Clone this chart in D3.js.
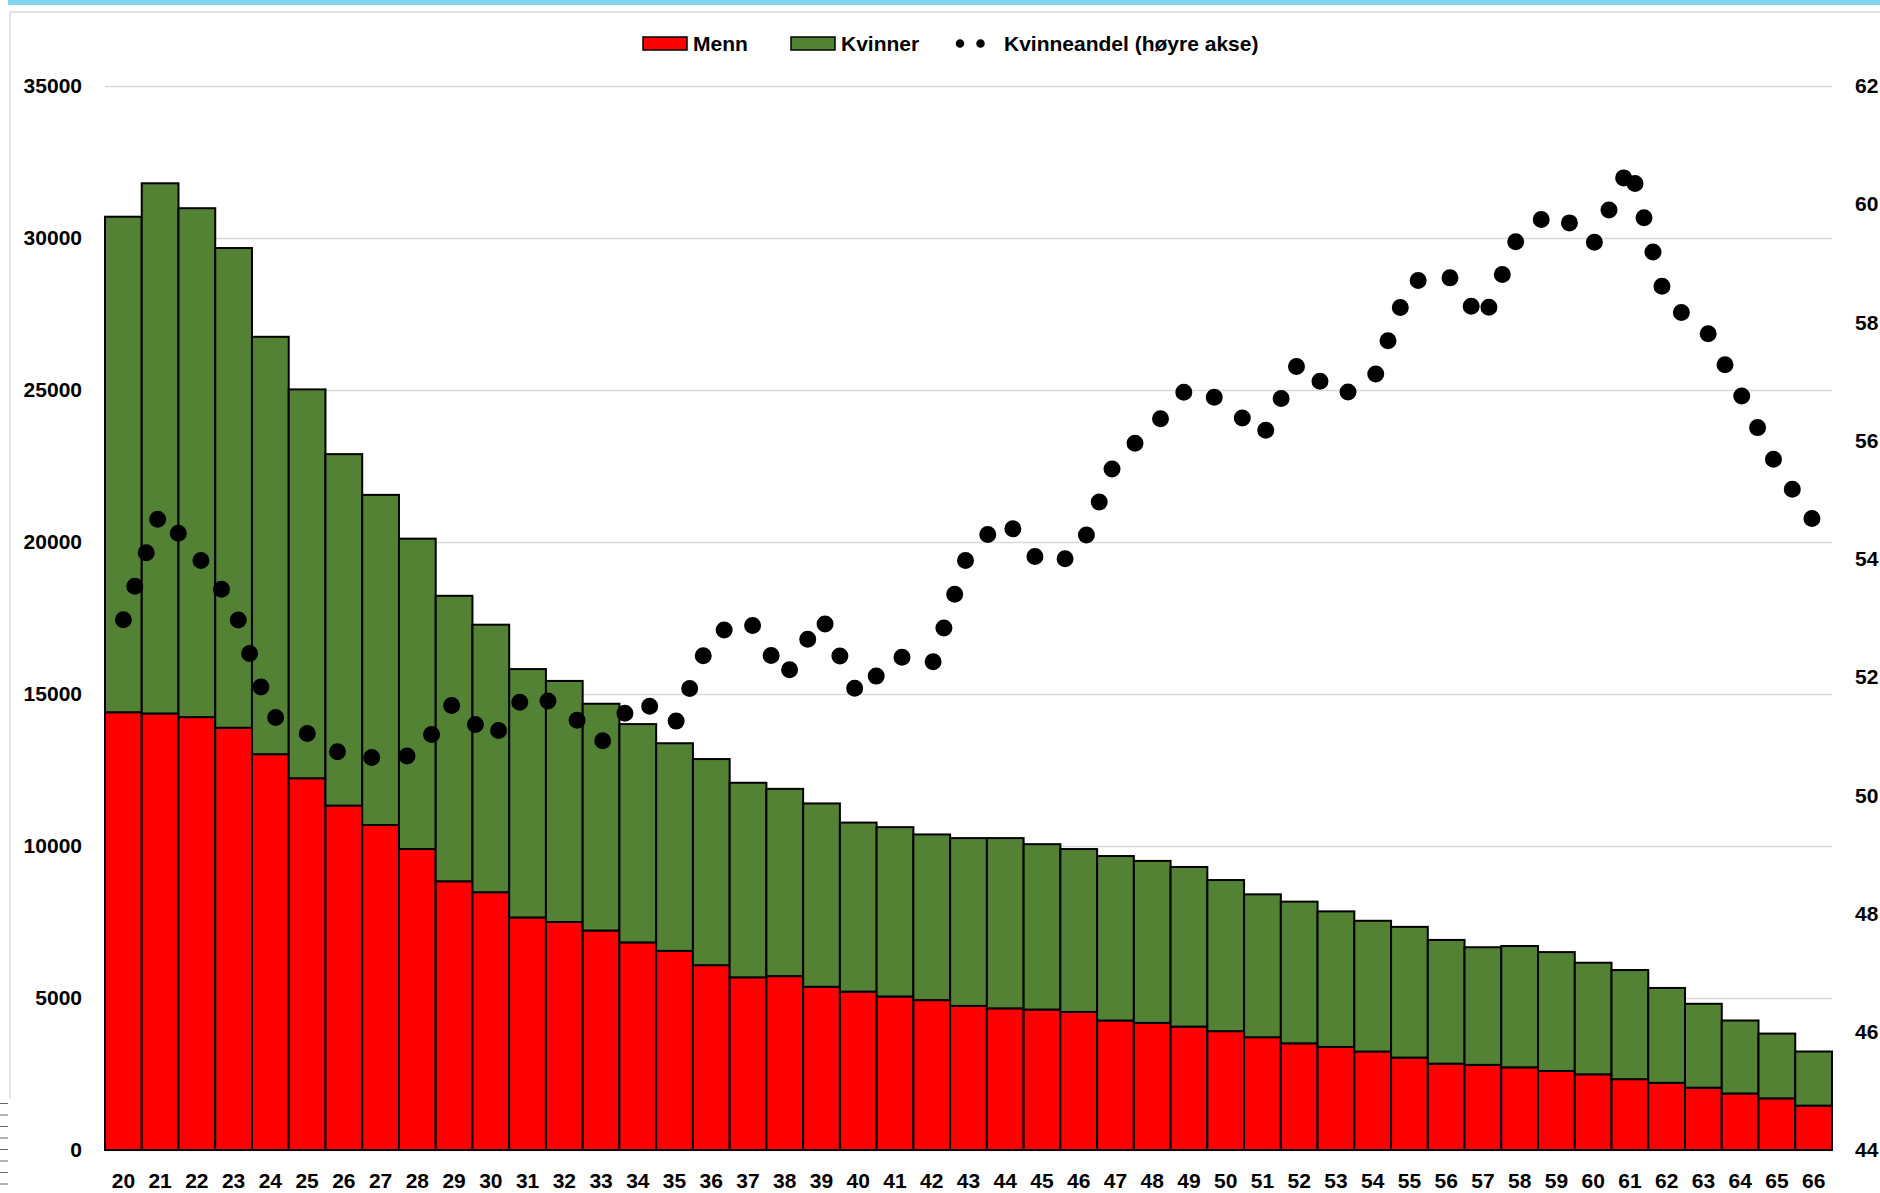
<!DOCTYPE html>
<html>
<head>
<meta charset="utf-8">
<script src="https://cdn.jsdelivr.net/npm/d3@7/dist/d3.min.js"></script>
<style>
body{margin:0;background:#fff;}
svg{display:block;}
</style>
</head>
<body>
<svg id="grafico" width="1880" height="1193"></svg>
<script>
// dados
var alder = [20,21,22,23,24,25,26,27,28,29,30,31,32,33,34,35,36,37,38,39,40,41,42,43,
    44,45,46,47,48,49,50,51,52,53,54,55,56,57,58,59,60,61,62,63,64,65,66];

var menn = [14400,14360,14240,13890,13020,12230,11330,10690,9900,8840,8480,7650,7500,7220,
    6830,6550,6080,5680,5720,5370,5210,5050,4930,4740,4660,4620,4540,4260,4180,4060,3910,
    3710,3510,3390,3240,3040,2840,2800,2720,2600,2490,2330,2210,2050,1860,1700,1460];

var kvinner = [16300,17440,16740,15780,13730,12790,11560,10860,10210,9390,8800,8170,7930,7460,
    7180,6830,6780,6400,6160,6030,5560,5570,5450,5520,5600,5440,5360,5410,5330,5250,4970,
    4700,4660,4460,4300,4300,4070,3870,3990,3910,3670,3590,3120,2760,2400,2130,1780];

// kvinneandel (hoyre akse), prosent
var kvinneandel = [52.97,54.79,54.07,53.20,51.36,51.05,50.67,50.63,50.68,51.58,50.92,51.75,
    51.47,50.89,51.66,51.19,52.69,53.00,51.99,53.03,51.68,52.37,52.19,54.13,54.67,53.89,
    54.07,55.67,56.21,56.92,56.65,56.06,57.35,56.74,56.99,58.67,58.84,58.01,59.53,59.89,
    59.31,60.68,58.31,57.96,56.81,55.57,54.64];

var venstreTicks = [0,5000,10000,15000,20000,25000,30000,35000];
var hoyreTicks = [44,46,48,50,52,54,56,58,60,62];
var serieNavn = ["Menn","Kvinner","Kvinneandel (høyre akse)"];

var fonte = "'Liberation Sans', Arial, sans-serif";
var cinzaGrid = "#d9d9d9";
var corMenn = "#ff0000";
var corKvinner = "#548235";
var qtdPontos = 85; // quantos pontos a linha pontilhada mostra no original

desenhaGrafico();

function desenhaGrafico(){
    var svg = d3.select("#grafico");
    var area = {left:105, right:1832, top:86, bottom:1150};

    var x = d3.scaleBand().domain(alder).range([area.left, area.right]).padding(0);
    var y = d3.scaleLinear().domain([0,35000]).range([area.bottom, area.top]);
    var y2 = d3.scaleLinear().domain([44,62]).range([area.bottom, area.top]);

    // faixa azul no topo e moldura
    svg.append("rect")
        .attr("x",8).attr("y",0).attr("width",1872).attr("height",5)
        .attr("fill","#7fd3eb");
    svg.append("path")
        .attr("d","M10,1098V12H1880")
        .attr("fill","none").attr("stroke",cinzaGrid).attr("stroke-width",1.5);
    // risquinhos na borda esquerda (restos da planilha)
    var riscos = svg.append("g").attr("stroke","#666").attr("stroke-width",1);
    for(var i=0;i<8;i++){
        riscos.append("line").attr("x1",0).attr("x2",8)
            .attr("y1",1103.5+i*11.5).attr("y2",1103.5+i*11.5);
    }

    // linhas de grade
    var grade = svg.append("g")
        .attr("transform","translate("+area.left+",0)")
        .call(d3.axisLeft(y).tickValues(venstreTicks)
            .tickSize(-(area.right-area.left)).tickFormat(""));
    grade.select(".domain").remove();
    grade.selectAll("line").attr("stroke",cinzaGrid).attr("stroke-width",1.5);

    // barras empilhadas
    var tabela = alder.map(function(a,i){
        return {alder:a, menn:menn[i], kvinner:kvinner[i]};
    });
    var pilha = d3.stack().keys(["menn","kvinner"])(tabela);
    var cores = {menn:corMenn, kvinner:corKvinner};
    svg.append("g")
        .selectAll("g")
        .data(pilha)
        .join("g")
        .attr("fill",function(d){ return cores[d.key]; })
        .selectAll("rect")
        .data(function(d){ return d; })
        .join("rect")
        .attr("x",function(d){ return x(d.data.alder); })
        .attr("width",x.bandwidth())
        .attr("y",function(d){ return y(d[1]); })
        .attr("height",function(d){ return y(d[0])-y(d[1]); })
        .attr("stroke","#000")
        .attr("stroke-width",2);

    // linha pontilhada da kvinneandel
    var linha = d3.line()
        .x(function(d,i){ return x(alder[i])+x.bandwidth()/2; })
        .y(function(d){ return y2(d); });
    var caminho = svg.append("path")
        .datum(kvinneandel)
        .attr("d",linha)
        .attr("fill","none")
        .attr("stroke","#000")
        .attr("stroke-width",17)
        .attr("stroke-linecap","round");
    // espacamento dos pontos: o original termina o ultimo ponto quase no fim da linha
    var comp = caminho.node().getTotalLength();
    var passo = (comp-3)/(qtdPontos-1);
    caminho.attr("stroke-dasharray","0 "+passo);

    // eixos
    var eixoY = svg.append("g")
        .attr("transform","translate("+area.left+",0)")
        .call(d3.axisLeft(y).tickValues(venstreTicks).tickSize(0).tickPadding(23)
            .tickFormat(d3.format("d")));
    var eixoY2 = svg.append("g")
        .attr("transform","translate("+area.right+",0)")
        .call(d3.axisRight(y2).tickValues(hoyreTicks).tickSize(0).tickPadding(23));
    var eixoX = svg.append("g")
        .attr("transform","translate(0,"+area.bottom+")")
        .call(d3.axisBottom(x).tickSize(0).tickPadding(23));
    [eixoY,eixoY2,eixoX].forEach(function(e){
        e.select(".domain").remove();
        e.attr("font-family",fonte).attr("font-size",21).attr("font-weight","bold");
        e.selectAll("text").attr("fill","#000");
    });

    // legenda
    var leg = svg.append("g")
        .attr("font-family",fonte).attr("font-size",21).attr("font-weight","bold");
    leg.append("rect").attr("x",643).attr("y",37).attr("width",44).attr("height",13)
        .attr("fill",corMenn).attr("stroke","#000").attr("stroke-width",1.5);
    leg.append("text").attr("x",693).attr("y",51).text(serieNavn[0]);
    leg.append("rect").attr("x",791).attr("y",37).attr("width",44).attr("height",13)
        .attr("fill",corKvinner).attr("stroke","#000").attr("stroke-width",1.5);
    leg.append("text").attr("x",841).attr("y",51).text(serieNavn[1]);
    leg.append("path").attr("d","M960,43.5H1001")
        .attr("stroke","#000").attr("stroke-width",8.5)
        .attr("stroke-linecap","round").attr("stroke-dasharray","0 20.5");
    leg.append("text").attr("x",1004).attr("y",51).text(serieNavn[2]);
}
</script>
</body>
</html>
